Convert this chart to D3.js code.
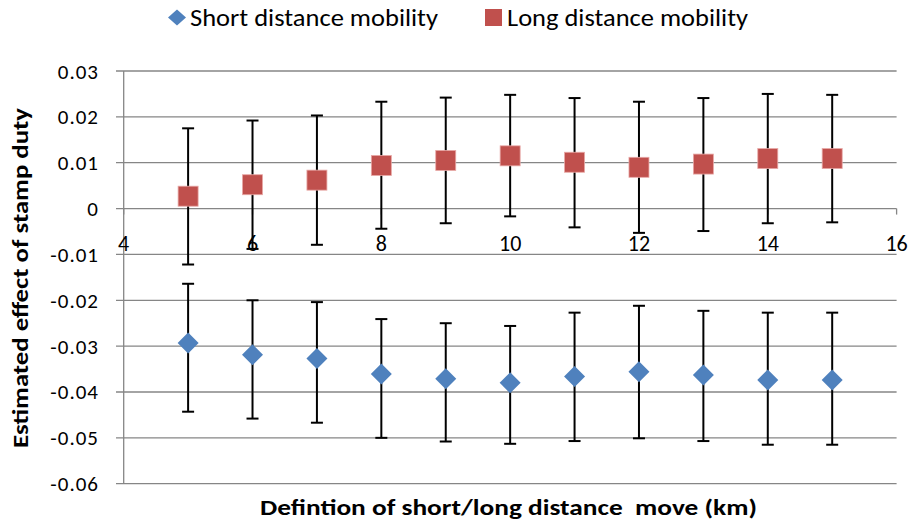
<!DOCTYPE html>
<html><head><meta charset="utf-8">
<script src="https://cdn.jsdelivr.net/npm/d3@7"></script>
<style>
body{margin:0;background:#fff;}
svg text{font-family:Carlito,Calibri,Lato,"Liberation Sans",sans-serif;fill:#000;}
</style></head>
<body><svg id="c" width="914" height="521"></svg>
<script>
const xValues = [5,6,7,8,9,10,11,12,13,14,15];
const shortEst = [-0.0293,-0.0319,-0.0327,-0.0361,-0.0371,-0.0380,-0.0366,-0.0356,-0.0363,-0.0374,-0.0374];
const shortLow = [-0.0443,-0.0458,-0.0467,-0.0500,-0.0508,-0.0513,-0.0507,-0.0501,-0.0507,-0.0515,-0.0515];
const shortHigh = [-0.0164,-0.0200,-0.0204,-0.0241,-0.0250,-0.0256,-0.0227,-0.0212,-0.0223,-0.0227,-0.0227];
const longEst = [0.0027,0.0052,0.0062,0.0094,0.0105,0.0115,0.0101,0.0090,0.0097,0.0109,0.0109];
const longLow = [-0.0122,-0.0088,-0.0079,-0.0044,-0.0032,-0.0017,-0.0041,-0.0053,-0.0049,-0.0032,-0.0030];
const longHigh = [0.0175,0.0192,0.0203,0.0233,0.0242,0.0248,0.0241,0.0233,0.0241,0.0250,0.0248];
const xTicks = [4,6,8,10,12,14,16];
const yTicks = [0.03,0.02,0.01,0,-0.01,-0.02,-0.03,-0.04,-0.05,-0.06];
const seriesNames = ["Short distance mobility","Long distance mobility"];
const colors = ["#4F81BD","#C0504D"];

const svg = d3.select("#c");
const x = d3.scaleLinear().domain([4,16]).range([123.7,896.6]);
const y = d3.scaleLinear().domain([-0.06,0.03]).range([483.7,71]);
const gridC = "#868686";

// gridlines + y ticks
svg.append("g").selectAll("line").data(yTicks).join("line")
  .attr("x1",116).attr("x2",x(16)).attr("y1",d=>y(d)).attr("y2",d=>y(d))
  .attr("stroke",gridC).attr("stroke-width",1.3);
// y axis line
svg.append("line").attr("x1",x(4)).attr("x2",x(4)).attr("y1",y(0.03)).attr("y2",y(-0.06))
  .attr("stroke",gridC).attr("stroke-width",1.3);
// y tick labels
svg.append("g").selectAll("text").data(yTicks).join("text")
  .attr("x",99).attr("y",d=>y(d)+7.5).attr("text-anchor","end")
  .attr("font-size",21).attr("letter-spacing",1)
  .text(d=>d3.format(".2~f")(d).replace("−","-"));
// x axis at zero
svg.append("g").selectAll("line").data(xTicks).join("line")
  .attr("x1",d=>x(d)).attr("x2",d=>x(d)).attr("y1",y(0)).attr("y2",y(0)+6)
  .attr("stroke",gridC).attr("stroke-width",1.3);
svg.append("g").selectAll("text").data(xTicks).join("text")
  .attr("x",d=>x(d)).attr("y",251).attr("text-anchor","middle")
  .attr("font-size",22).text(d=>d);

// error bars
function errBars(low,high){
  const g = svg.append("g").attr("stroke","#000").attr("stroke-width",2);
  xValues.forEach((xv,i)=>{
    g.append("line").attr("x1",x(xv)).attr("x2",x(xv)).attr("y1",y(low[i])).attr("y2",y(high[i]));
    g.append("line").attr("x1",x(xv)-6).attr("x2",x(xv)+6).attr("y1",y(low[i])).attr("y2",y(low[i]));
    g.append("line").attr("x1",x(xv)-6).attr("x2",x(xv)+6).attr("y1",y(high[i])).attr("y2",y(high[i]));
  });
}
errBars(shortLow,shortHigh);
errBars(longLow,longHigh);

const diamond = "M0,-10.5L10.5,0L0,10.5L-10.5,0Z";
svg.append("g").selectAll("path").data(shortEst).join("path")
  .attr("d",diamond).attr("transform",(d,i)=>`translate(${x(xValues[i])},${y(d)})`)
  .attr("fill",colors[0]);
svg.append("g").selectAll("rect").data(longEst).join("rect")
  .attr("x",(d,i)=>x(xValues[i])-10).attr("y",d=>y(d)-10).attr("width",20).attr("height",20)
  .attr("fill",colors[1]).attr("stroke","#e8a8a6").attr("stroke-width",0.8);

// legend
svg.append("path").attr("d","M0,-8L9,0L0,8L-9,0Z").attr("transform","translate(177,17.5)").attr("fill",colors[0]);
svg.append("text").attr("x",190).attr("y",26).attr("font-size",24)
  .attr("textLength",248).attr("lengthAdjust","spacingAndGlyphs").text(seriesNames[0]);
svg.append("rect").attr("x",485).attr("y",9).attr("width",17).attr("height",17).attr("fill",colors[1]);
svg.append("text").attr("x",507).attr("y",26).attr("font-size",24)
  .attr("textLength",241).attr("lengthAdjust","spacingAndGlyphs").text(seriesNames[1]);

// titles
svg.append("text").attr("x",260).attr("y",515)
  .attr("font-size",22).attr("font-weight","bold")
  .attr("textLength",497).attr("lengthAdjust","spacingAndGlyphs")
  .text("Defintion of short/long distance\u00a0\u00a0move (km)");
svg.append("text").attr("transform","translate(28,448) rotate(-90)")
  .attr("font-size",22).attr("font-weight","bold")
  .attr("textLength",340).attr("lengthAdjust","spacingAndGlyphs")
  .text("Estimated effect of stamp duty");
</script></body></html>
